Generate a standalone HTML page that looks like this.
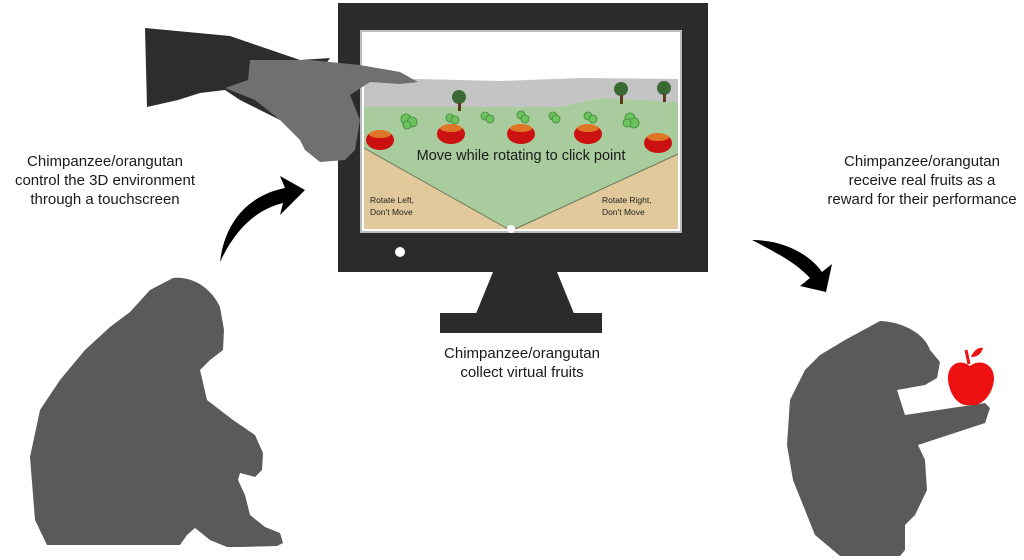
<!DOCTYPE html>
<html><head><style>
html,body{margin:0;padding:0;background:#fff;width:1024px;height:560px;overflow:hidden}
svg{display:block}
text{font-family:"Liberation Sans",sans-serif}
</style></head><body>
<svg width="1024" height="560" viewBox="0 0 1024 560" xmlns="http://www.w3.org/2000/svg">
<!-- monitor -->
<rect x="338" y="3" width="370" height="269" fill="#2b2b2b"/>
<polygon points="493,272 557,272 575,316 475,316" fill="#2b2b2b"/>
<rect x="440" y="313" width="162" height="20" fill="#2b2b2b"/>
<circle cx="400" cy="252" r="5" fill="#fff"/>
<rect x="361" y="31" width="320" height="201" fill="#fff" stroke="#bbb" stroke-width="2"/>
<!-- scene -->
<path d="M364,80 L420,79 L500,81 L580,78 L678,79 L678,105 L600,98 L560,107 L364,107 Z" fill="#c4c4c4"/>
<path d="M364,107 L560,107 L600,98 L678,102 L678,229 L364,229 Z" fill="#a9cc9e"/>
<polygon points="364,148 364,229 508,229" fill="#e2c99b"/>
<polygon points="678,154 678,229 515,229" fill="#e2c99b"/>
<line x1="364" y1="148" x2="508" y2="229" stroke="#6a7a5a" stroke-width="1"/>
<line x1="678" y1="154" x2="515" y2="229" stroke="#6a7a5a" stroke-width="1"/>
<circle cx="511" cy="229" r="4" fill="#fff"/>
<g fill="#3a6a33"><circle cx="459" cy="97" r="7"/><circle cx="621" cy="89" r="7"/><circle cx="664" cy="88" r="7"/></g>
<g fill="#5a3a1a"><rect x="458" y="103" width="3" height="8"/><rect x="620" y="95" width="3" height="9"/><rect x="663" y="94" width="3" height="8"/></g>
<g fill="#6cc25e" stroke="#3e8a35" stroke-width="0.8">
<circle cx="406" cy="119" r="5"/><circle cx="412" cy="122" r="5"/><circle cx="407" cy="125" r="4"/>
<circle cx="450" cy="118" r="4"/><circle cx="455" cy="120" r="4"/>
<circle cx="485" cy="116" r="4"/><circle cx="490" cy="119" r="4"/>
<circle cx="521" cy="115" r="4"/><circle cx="525" cy="119" r="4"/>
<circle cx="553" cy="116" r="4"/><circle cx="556" cy="119" r="4"/>
<circle cx="588" cy="116" r="4"/><circle cx="593" cy="119" r="4"/>
<circle cx="630" cy="118" r="5"/><circle cx="634" cy="123" r="5"/><circle cx="627" cy="123" r="4"/>
</g>
<g fill="#cc1111">
<ellipse cx="380" cy="140" rx="14" ry="10"/><ellipse cx="451" cy="134" rx="14" ry="10"/>
<ellipse cx="521" cy="134" rx="14" ry="10"/><ellipse cx="588" cy="134" rx="14" ry="10"/>
<ellipse cx="658" cy="143" rx="14" ry="10"/>
</g>
<g fill="#e8a030" opacity="0.7">
<ellipse cx="380" cy="134" rx="11" ry="4"/><ellipse cx="451" cy="128" rx="11" ry="4"/>
<ellipse cx="521" cy="128" rx="11" ry="4"/><ellipse cx="588" cy="128" rx="11" ry="4"/>
<ellipse cx="658" cy="137" rx="11" ry="4"/>
</g>
<text x="521" y="160" font-size="14.5" text-anchor="middle" fill="#1a1a1a">Move while rotating to click point</text>
<text x="370" y="203" font-size="8.5" fill="#222">Rotate Left,</text>
<text x="370" y="215" font-size="8.5" fill="#222">Don't Move</text>
<text x="602" y="203" font-size="8.5" fill="#222">Rotate Right,</text>
<text x="602" y="215" font-size="8.5" fill="#222">Don't Move</text>
<!-- arm -->
<path d="M145,28 L230,36 L300,60 L330,58 L320,72 L300,95 L290,110 L280,120 L240,100 L225,90 L200,93 L178,100 L147,107 Z" fill="#2d2d2d"/>
<path d="M250,60 L310,60 L360,65 L400,72 L418,82 L400,84 L370,82 L350,95 L360,120 L355,150 L345,160 L320,162 L305,150 L300,140 L280,120 L255,100 L225,88 L248,80 Z" fill="#707070"/>
<!-- arrows -->
<path d="M220,262 C225,220 250,195 285,188 L280,176 L305,190 L280,215 L283,203 C255,210 235,230 220,262 Z" fill="#000"/>
<path d="M752,240 C785,240 810,255 822,272 L832,264 L826,292 L800,286 L810,278 C795,262 775,252 752,240 Z" fill="#000"/>
<!-- left chimp -->
<path d="M173,278 C195,276 212,290 220,307 L224,330 L223,350 L210,360 L200,370 L207,400 L233,420 L255,435 L263,453 L262,470 L255,477 L240,473 L238,480 L245,495 L250,515 L265,527 L280,533 L283,543 L277,546 L240,547 L227,547 L210,540 L195,528 L187,535 L180,545 L47,545 L35,520 L30,457 L40,410 L60,380 L85,350 L110,327 L130,312 L150,290 Z" fill="#5a5a5a"/>
<!-- right chimp -->
<path d="M880,321 C905,322 925,335 930,350 L940,362 L937,378 L925,385 L897,390 L905,415 L985,403 L990,408 L985,423 L918,445 L925,460 L927,490 L915,515 L905,525 L905,550 L900,556 L840,556 L815,535 L805,510 L793,480 L787,445 L790,400 L805,370 L820,355 L845,340 Z" fill="#5a5a5a"/>
<path d="M970,366 C960,358 947,364 948,380 C950,397 960,407 970,405 C980,407 992,397 994,380 C995,364 980,358 970,366 Z" fill="#ee1111"/>
<path d="M969,364 L966,350" stroke="#ee1111" stroke-width="3" fill="none"/>
<path d="M971,357 C974,349 980,347 983,348 C981,355 976,357 971,357 Z" fill="#ee1111"/>
<!-- labels -->
<g font-size="15" fill="#1a1a1a" text-anchor="middle">
<text x="105" y="166">Chimpanzee/orangutan</text>
<text x="105" y="185">control the 3D environment</text>
<text x="105" y="204">through a touchscreen</text>
<text x="522" y="358">Chimpanzee/orangutan</text>
<text x="522" y="377">collect virtual fruits</text>
<text x="922" y="166">Chimpanzee/orangutan</text>
<text x="922" y="185">receive real fruits as a</text>
<text x="922" y="204">reward for their performance</text>
</g>
</svg>
</body></html>
